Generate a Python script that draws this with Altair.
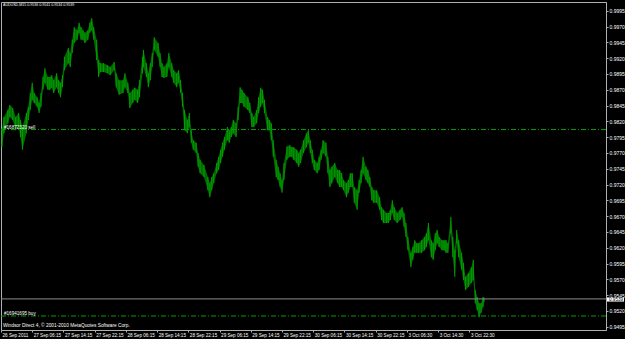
import altair as alt
import pandas as pd

bars = [1, 3, 7, 9, 12, 15, 18, 20, 22, 26, 28, 30, 32, 34, 37, 39, 41, 43, 45, 48,
        50, 52, 54, 57, 59, 61, 63, 65, 69, 71, 73, 75, 78, 80, 82, 84, 86, 89, 91, 93,
        95, 98, 100,
        102, 105, 109, 112, 116, 118, 121, 125, 127, 130, 132, 135, 137, 140, 142, 145,
        146, 149, 151, 153, 155, 157, 161, 163, 165, 167, 170, 172, 175, 177, 180, 182,
        184, 186, 188, 191, 193, 195, 197, 200, 202,
        204, 208, 212, 214, 216, 218, 221, 223, 225, 227, 229, 232, 234, 236, 238, 241,
        243, 245, 247, 249, 253, 255, 257, 259, 262, 264, 266, 268, 270, 273, 275, 277,
        279, 282, 284, 286, 288, 290, 293, 296, 298, 300, 303, 305,
        307, 310, 313, 315, 317, 319, 321, 324, 326, 328, 330, 333, 335, 337, 339, 342,
        345, 347, 349, 351, 354, 356, 358, 360, 362, 365, 367, 369, 371, 374, 376, 378,
        380, 382, 385, 388, 390, 392, 395, 397, 399, 401, 403, 406,
        409, 411, 413, 415, 417, 420, 422, 424, 426, 428, 431, 434, 436, 438, 441, 443,
        445, 447, 449, 452, 454, 456, 458, 461, 463, 465, 467, 469, 472, 474, 476, 479,
        482, 484, 486, 488, 490, 492, 494, 495]

highs = [0.9809, 0.9827, 0.9838, 0.9846, 0.9841, 0.9827, 0.9833, 0.9822, 0.9811, 0.9833,
         0.9843, 0.9865, 0.9881, 0.9865, 0.9858, 0.9849, 0.9865, 0.9890, 0.9904, 0.9890,
         0.9890, 0.9893, 0.9885, 0.9896, 0.9885, 0.9881, 0.9893, 0.9922, 0.9936, 0.9928,
         0.9949, 0.9969, 0.9964, 0.9976, 0.9969, 0.9964, 0.9960, 0.9964, 0.9976, 0.9983,
         0.9969, 0.9949, 0.9917,
         0.9912, 0.9912, 0.9909, 0.9906, 0.9914, 0.9896, 0.9885, 0.9885, 0.9896, 0.9881,
         0.9865, 0.9870, 0.9873, 0.9870, 0.9885, 0.9922, 0.9933, 0.9912, 0.9896, 0.9912,
         0.9928, 0.9953, 0.9944, 0.9928, 0.9912, 0.9906, 0.9912, 0.9928, 0.9912, 0.9901,
         0.9896, 0.9901, 0.9885, 0.9865, 0.9838, 0.9822, 0.9833, 0.9806, 0.9790, 0.9786,
         0.9770,
         0.9759, 0.9751, 0.9732, 0.9722, 0.9732, 0.9738, 0.9754, 0.9764, 0.9775, 0.9786,
         0.9795, 0.9811, 0.9806, 0.9811, 0.9822, 0.9817, 0.9843, 0.9874, 0.9870, 0.9865,
         0.9858, 0.9849, 0.9833, 0.9827, 0.9838, 0.9858, 0.9873, 0.9870, 0.9854, 0.9827,
         0.9822, 0.9817, 0.9790, 0.9759, 0.9748, 0.9738, 0.9727, 0.9754, 0.9780, 0.9782,
         0.9779, 0.9779, 0.9775, 0.9770,
         0.9775, 0.9790, 0.9801, 0.9806, 0.9790, 0.9775, 0.9759, 0.9754, 0.9764, 0.9775,
         0.9790, 0.9786, 0.9764, 0.9743, 0.9748, 0.9754, 0.9743, 0.9743, 0.9738, 0.9727,
         0.9722, 0.9727, 0.9738, 0.9738, 0.9716, 0.9711, 0.9727, 0.9743, 0.9764, 0.9748,
         0.9743, 0.9732, 0.9716, 0.9711, 0.9711, 0.9700, 0.9684, 0.9680, 0.9675, 0.9675,
         0.9680, 0.9695, 0.9684, 0.9675,
         0.9680, 0.9684, 0.9675, 0.9659, 0.9637, 0.9612, 0.9621, 0.9632, 0.9627, 0.9627,
         0.9632, 0.9637, 0.9643, 0.9659, 0.9632, 0.9627, 0.9643, 0.9648, 0.9637, 0.9632,
         0.9632, 0.9632, 0.9627, 0.9669, 0.9637, 0.9616, 0.9648, 0.9632, 0.9612, 0.9596,
         0.9574, 0.9580, 0.9589, 0.9601, 0.9553, 0.9542, 0.9532, 0.9532, 0.9542, 0.9541]

lows = [0.9779, 0.9801, 0.9817, 0.9827, 0.9822, 0.9806, 0.9811, 0.9795, 0.9775, 0.9801,
        0.9822, 0.9838, 0.9854, 0.9849, 0.9843, 0.9833, 0.9843, 0.9870, 0.9881, 0.9870,
        0.9870, 0.9873, 0.9865, 0.9874, 0.9865, 0.9858, 0.9874, 0.9901, 0.9912, 0.9906,
        0.9928, 0.9944, 0.9949, 0.9960, 0.9949, 0.9949, 0.9944, 0.9949, 0.9960, 0.9964,
        0.9949, 0.9917, 0.9890,
        0.9898, 0.9898, 0.9896, 0.9893, 0.9901, 0.9874, 0.9862, 0.9865, 0.9874, 0.9865,
        0.9841, 0.9849, 0.9854, 0.9849, 0.9858, 0.9896, 0.9906, 0.9890, 0.9874, 0.9885,
        0.9906, 0.9933, 0.9922, 0.9906, 0.9890, 0.9889, 0.9890, 0.9906, 0.9890, 0.9881,
        0.9874, 0.9881, 0.9865, 0.9843, 0.9806, 0.9801, 0.9811, 0.9786, 0.9775, 0.9770,
        0.9748,
        0.9738, 0.9732, 0.9711, 0.9700, 0.9711, 0.9722, 0.9738, 0.9743, 0.9754, 0.9764,
        0.9775, 0.9790, 0.9786, 0.9795, 0.9801, 0.9795, 0.9822, 0.9849, 0.9849, 0.9843,
        0.9838, 0.9833, 0.9811, 0.9811, 0.9817, 0.9833, 0.9843, 0.9849, 0.9833, 0.9806,
        0.9806, 0.9790, 0.9764, 0.9732, 0.9727, 0.9716, 0.9707, 0.9727, 0.9759, 0.9764,
        0.9764, 0.9759, 0.9754, 0.9748,
        0.9754, 0.9770, 0.9779, 0.9786, 0.9770, 0.9754, 0.9743, 0.9738, 0.9743, 0.9759,
        0.9770, 0.9764, 0.9738, 0.9716, 0.9722, 0.9732, 0.9722, 0.9716, 0.9716, 0.9711,
        0.9700, 0.9707, 0.9716, 0.9716, 0.9691, 0.9680, 0.9707, 0.9722, 0.9738, 0.9727,
        0.9722, 0.9716, 0.9695, 0.9691, 0.9691, 0.9680, 0.9664, 0.9659, 0.9659, 0.9659,
        0.9664, 0.9675, 0.9664, 0.9659,
        0.9664, 0.9669, 0.9653, 0.9637, 0.9616, 0.9589, 0.9601, 0.9612, 0.9612, 0.9612,
        0.9612, 0.9616, 0.9621, 0.9632, 0.9605, 0.9601, 0.9616, 0.9627, 0.9621, 0.9616,
        0.9616, 0.9612, 0.9612, 0.9643, 0.9605, 0.9574, 0.9627, 0.9605, 0.9585, 0.9569,
        0.9553, 0.9558, 0.9564, 0.9569, 0.9532, 0.9521, 0.9510, 0.9517, 0.9526, 0.9534]

# ---- axes / annotations ----
x_label_bars = [0, 32, 64, 96, 128, 160, 192, 224, 256, 288, 320, 352, 384, 416, 448, 480]
x_labels = ["26 Sep 2011", "27 Sep 06:15", "27 Sep 14:15", "27 Sep 22:15",
            "28 Sep 06:15", "28 Sep 14:15", "28 Sep 22:15", "29 Sep 06:15",
            "29 Sep 14:15", "29 Sep 22:15", "30 Sep 06:15", "30 Sep 14:15",
            "30 Sep 22:15", "3 Oct 06:30", "3 Oct 14:30", "3 Oct 22:30"]
y_ticks = [0.9495, 0.9520, 0.9545, 0.9570, 0.9595, 0.9620, 0.9645, 0.9670, 0.9695,
           0.9720, 0.9745, 0.9770, 0.9795, 0.9820, 0.9845, 0.9870, 0.9895, 0.9920,
           0.9945, 0.9970, 0.9995]
order_prices = [0.9807, 0.9512]
order_labels = ["#16872320 sell", "#16941695 buy"]
bid = 0.9539
header = "AUDUSD,M15  0.9536 0.9541 0.9534 0.9539"
footer = "Windsor Direct 4, \u00a9 2001-2010 MetaQuotes Software Corp."

FONT = "Liberation Sans"
W, H = 605, 328

df = pd.DataFrame({"bar": bars, "high": highs, "low": lows})
orders = pd.DataFrame({"price": order_prices, "label": order_labels})
bid_df = pd.DataFrame({"price": [bid], "label": [f"{bid:.4f}"]})

xs = alt.Scale(domain=[0, 620], nice=False, zero=False)
ys = alt.Scale(domain=[0.94898, 1.00088], nice=False, zero=False)

label_expr = "[" + ",".join(f"'{s}'" for s in x_labels) + "][round(datum.value / 32)]"

x_axis = alt.Axis(
    values=x_label_bars, labelExpr=label_expr, title=None, grid=False,
    orient="bottom", labelAlign="left", labelBaseline="top", labelPadding=0,
    labelFontSize=4.6, labelFont=FONT, labelColor="#ffffff", labelFlush=False,
    labelOverlap=False, tickSize=2, tickColor="#b0b0b0", domain=False, labelOffset=1)
y_axis = alt.Axis(
    values=y_ticks, format=".4f", title=None, grid=False, orient="right",
    labelFontSize=5, labelFont=FONT, labelColor="#ffffff", labelPadding=1,
    tickSize=2, tickColor="#b0b0b0", domainColor="#b0b0b0", labelOverlap=False,
    labelFlush=False, labelBound=False, labelSeparation=0)

band = alt.Chart(df).mark_area(color="#006c00", opacity=1).encode(
    x=alt.X("bar:Q", scale=xs, axis=x_axis),
    y=alt.Y("high:Q", scale=ys, axis=y_axis), y2="low:Q")
sticks = alt.Chart(df).mark_rule(color="#009c00", strokeWidth=1.1).encode(
    x=alt.X("bar:Q", scale=xs, axis=x_axis),
    y=alt.Y("high:Q", scale=ys, axis=y_axis), y2="low:Q")

order_lines = alt.Chart(orders).mark_rule(
    color="#00a000", strokeWidth=1, strokeDash=[5, 2, 1, 2]).encode(
    y=alt.Y("price:Q", scale=ys, axis=y_axis))
order_text = alt.Chart(orders).mark_text(
    align="left", baseline="middle", dy=-1.5, fontSize=4.6, font=FONT,
    color="#ffffff").encode(
    x=alt.value(3), y=alt.Y("price:Q", scale=ys, axis=y_axis), text="label:N")

bid_line = alt.Chart(bid_df).mark_rule(color="#8c8c8c", strokeWidth=1).encode(
    y=alt.Y("price:Q", scale=ys, axis=y_axis))
bid_box = alt.Chart(bid_df).transform_calculate(
    lo="datum.price - 0.00042", hi="datum.price + 0.00024").mark_rect(
    color="#ffffff").encode(
    x=alt.value(W + 1), x2=alt.value(W + 18),
    y=alt.Y("lo:Q", scale=ys, axis=y_axis), y2="hi:Q")
bid_text = alt.Chart(bid_df).mark_text(
    align="left", baseline="middle", dy=0.6, fontSize=4.6, font=FONT,
    color="#000000").encode(
    x=alt.value(W + 3), y=alt.Y("price:Q", scale=ys, axis=y_axis), text="label:N")

head_text = alt.Chart(pd.DataFrame({"t": [header]})).mark_text(
    align="left", baseline="middle", fontSize=3.6, font=FONT, color="#ffffff").encode(
    x=alt.value(2), y=alt.value(3), text="t:N")
foot_text = alt.Chart(pd.DataFrame({"t": [footer]})).mark_text(
    align="left", baseline="middle", fontSize=4.8, font=FONT, color="#ffffff").encode(
    x=alt.value(2), y=alt.value(324), text="t:N")

chart = alt.layer(
    band, sticks, order_lines, bid_line, order_text, bid_box, bid_text,
    head_text, foot_text
).properties(
    width=W, height=H,
    autosize=alt.AutoSizeParams(type="none"),
    padding={"left": 1, "top": 2, "right": 19, "bottom": 9},
    background="#000000",
).configure_view(stroke="#b0b0b0", strokeWidth=1
).configure_axis(labelOverlap=False)

chart.save("out.html", embed_options={"renderer": "svg", "actions": False})
